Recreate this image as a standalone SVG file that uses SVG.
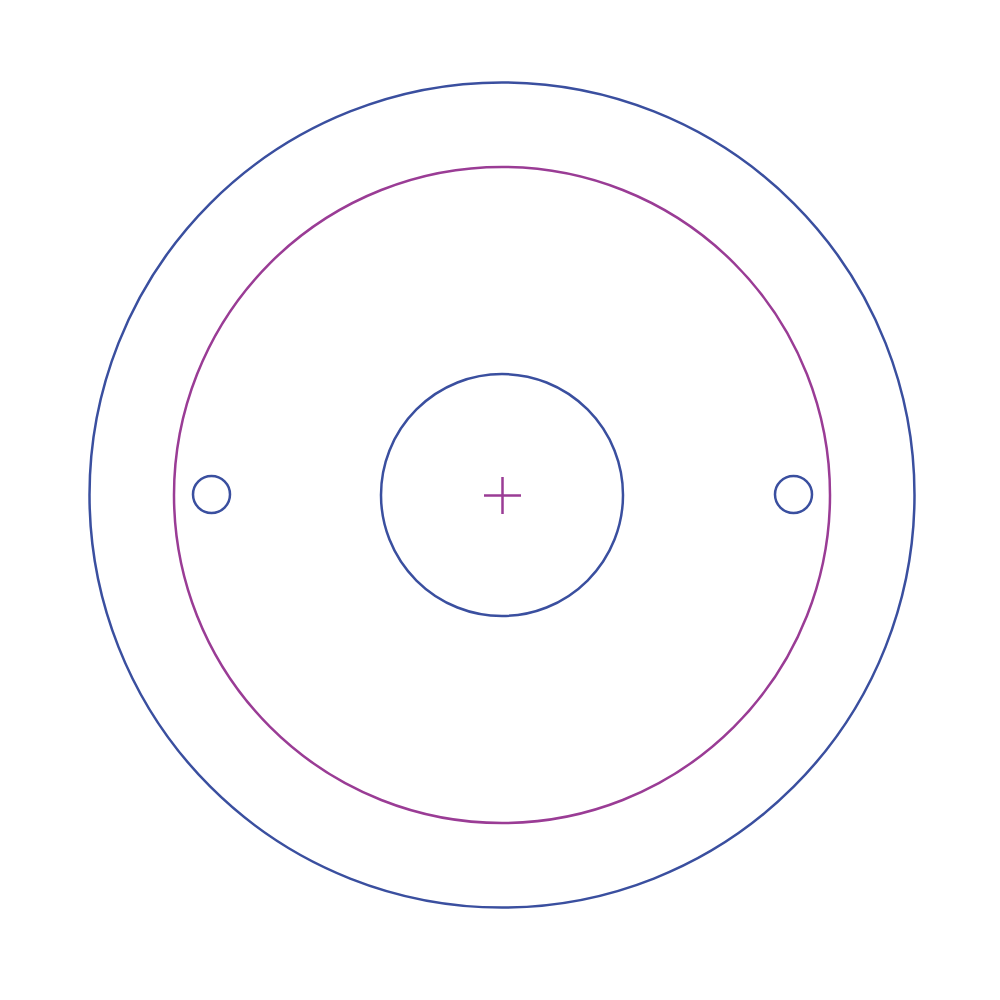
<svg xmlns="http://www.w3.org/2000/svg" width="1000" height="1000" viewBox="0 0 1000 1000">
<style>
.b{fill:none;stroke:#3a4f9f;stroke-width:2.5}
.p{fill:none;stroke:#9a3c95;stroke-width:2.5}
</style>
<rect width="1000" height="1000" fill="#ffffff"/>
<g id="outer"><circle class="b" cx="502" cy="495" r="412.5"/></g>
<g id="bolt-circle"><circle class="p" cx="502" cy="495" r="328"/></g>
<g id="bore"><circle class="b" cx="502" cy="495" r="121"/></g>
<g id="hole-left"><circle class="b" cx="211.5" cy="494.5" r="18.5"/></g>
<g id="hole-right"><circle class="b" cx="793.5" cy="494.5" r="18.5"/></g>
<g id="center-mark"><path class="p" d="M484 495.5H521M502.5 477V514"/></g>
</svg>
